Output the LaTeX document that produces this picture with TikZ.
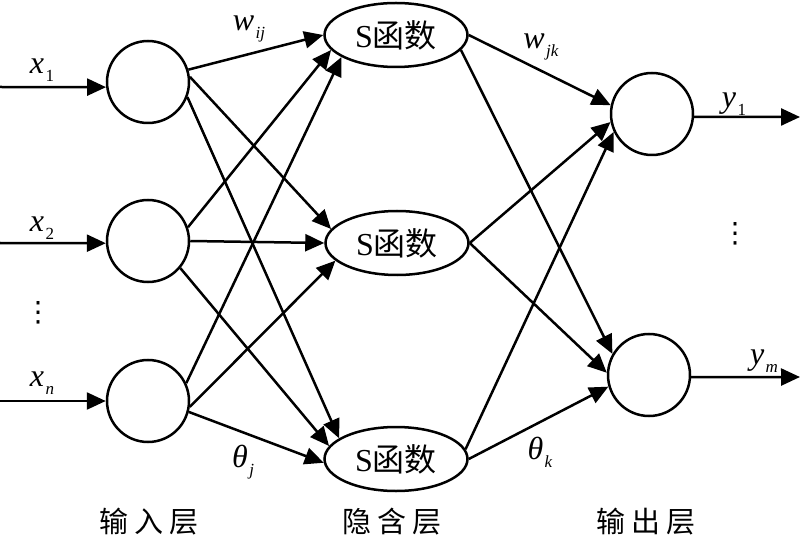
\documentclass[tikz,border=0pt]{standalone}
\usepackage{fontspec}
\setmainfont{Liberation Serif}
\newfontfamily\cjk{Noto Sans CJK SC}
\newfontfamily\cjkwide{Noto Sans CJK SC}[LetterSpace=20]
\newfontfamily\symfont{DejaVu Sans}
\usetikzlibrary{shapes.geometric}
\usetikzlibrary{arrows.meta}
\newcommand{\vsub}[2]{\textit{#1}\hspace{1.5pt}\raisebox{-8pt}{\fontsize{17}{17}\selectfont #2}}
\tikzset{
	neuron/.style = {
		circle,
		draw=black,
		line width=2.5pt,
		minimum size=82pt,
		inner sep=0pt
	},
	node_in/.style = {
		neuron
	},
	node_out/.style = {
		neuron
	},
	node_hid/.style = {
		ellipse,
		draw=black,
		line width=2.5pt,
		minimum width=143pt,
		minimum height=64pt,
		inner sep=0pt,
		font=\fontsize{32}{32}\selectfont
	},
	node_lbl/.style = {
		inner sep=0pt,
		font=\fontsize{32}{32}\selectfont
	},
	node_dots/.style = {
		inner sep=0pt,
		font=\symfont\fontsize{28}{28}\selectfont
	},
	layer_lbl/.style = {
		inner sep=0pt,
		font=\cjkwide\fontsize{29}{29}\selectfont
	},
	link/.style = {
		-{Triangle[length=19pt,width=17pt]},
		line width=2.5pt
	},
}

\begin{document}
\begin{tikzpicture}[x=1pt, y=-1pt]
\useasboundingbox (0,0) rectangle (800,537);

% input layer
\node [node_in] (i1) at (148,82) {};
\node [node_in] (i2) at (148,241) {};
\node [node_in] (i3) at (148,401) {};
% hidden layer
\node [node_hid] (h1) at (396,35) {S{\cjk 函数}};
\node [node_hid] (h2) at (397,243) {S{\cjk 函数}};
\node [node_hid] (h3) at (396,459) {S{\cjk 函数}};
% output layer
\node [node_out] (o1) at (652,114) {};
\node [node_out] (o2) at (649,375) {};

% free ends
\coordinate (x1) at (0,87);
\coordinate (x2) at (0,243);
\coordinate (x3) at (0,401);
\coordinate (y1) at (800,117);
\coordinate (y2) at (800,377);

\draw [link] (x1) -- (i1.187);
\draw [link] (x2) -- (i2.183);
\draw [link] (x3) -- (i3.west);
\draw [link] (o1.-4) -- (y1);
\draw [link] (o2.-3) -- (y2);

% input -> hidden
\draw [link] (i1.17) -- (h1.180);
\draw [link] (i1.7) -- (h2.168);
\draw [link] (i1.-21) -- (h3.160);
\draw [link] (i2.19) -- (h1.193);
\draw [link] (i2.east) -- (h2.180);
\draw [link] (i2.-40) -- (h3.169);
\draw [link] (i3.25) -- (h1.202);
\draw [link] (i3.-8) -- (h2.196);
\draw [link] (i3.-15) -- (h3.183);

% hidden -> output
\draw [link] (h1.east) -- (o1.168);
\draw [link] (h1.-13) -- (o2.150);
\draw [link] (h2.east) -- (o1.191);
\draw [link] (h2.east) -- (o2.177);
\draw [link] (h3.8) -- (o1.205);
\draw [link] (h3.east) -- (o2.196);

% labels
\node [node_lbl] (lx1) at (42,70) {\vsub{x}{1}};
\node [node_lbl] (lx2) at (42,228) {\vsub{x}{2}};
\node [node_dots] (ldl) at (38,313) {⋮};
\node [node_lbl] (lxn) at (42,383) {\vsub{x}{\textit{n}}};
\node [node_lbl] (lw1) at (249,29) {\vsub{w}{\textit{ij}}};
\node [node_lbl] (lw2) at (541,47) {\vsub{w}{\textit{jk}}};
\node [node_lbl] (lt1) at (243,462) {\vsub{θ}{\textit{j}}};
\node [node_lbl] (lt2) at (540,452) {\vsub{θ}{\textit{k}}};
\node [node_lbl] (ly1) at (734,104) {\vsub{y}{1}};
\node [node_dots] (ldr) at (735,234) {⋮};
\node [node_lbl] (lym) at (764,361) {\vsub{y}{\textit{m}}};

\node [layer_lbl] (l_in) at (149,522) {输入层};
\node [layer_lbl] (l_hid) at (392,522) {隐含层};
\node [layer_lbl] (l_out) at (646,522) {输出层};
\end{tikzpicture}
\end{document}
